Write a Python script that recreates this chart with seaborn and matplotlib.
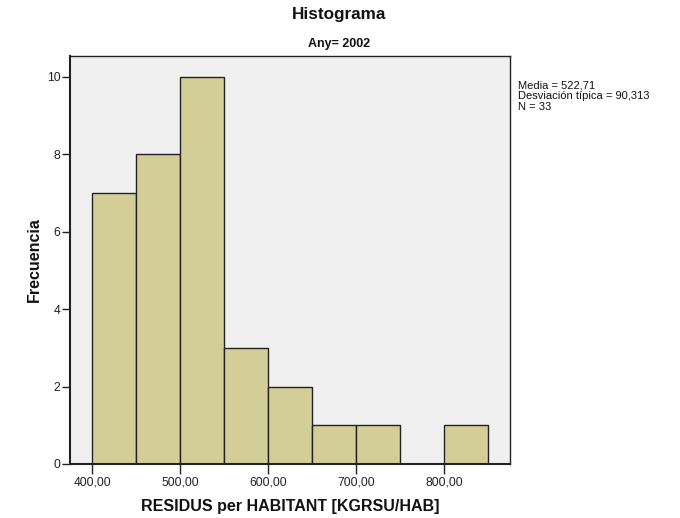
import matplotlib
matplotlib.use("Agg")
import matplotlib.pyplot as plt
import seaborn as sns
import numpy as np
from matplotlib.ticker import FuncFormatter

bin_edges = [400, 450, 500, 550, 600, 650, 700, 750, 800, 850]
counts = [7, 8, 10, 3, 2, 1, 1, 0, 1]
x_ticks = [400, 500, 600, 700, 800]
y_ticks = [0, 2, 4, 6, 8, 10]
stats_lines = ["Media = 522,71", "Desviación típica = 90,313", "N = 33"]

sns.set_theme(style="white")
plt.rcParams['font.family'] = ['Liberation Sans', 'DejaVu Sans']

fig = plt.figure(figsize=(6.8, 5.18), dpi=100)
ax = fig.add_axes([70/680, 1 - 464/518, 440/680, 408/518])
ax.set_facecolor("#F0F0F0")

centers = [(a + b) / 2 for a, b in zip(bin_edges[:-1], bin_edges[1:])]
sns.histplot(x=centers, weights=counts, bins=bin_edges, ax=ax,
             color="#D3CE97", alpha=1.0, edgecolor="#222222", linewidth=1.0)

ax.set_xlim(375, 875)
ax.set_ylim(0, 10.54)
ax.set_xticks(x_ticks)
ax.set_yticks(y_ticks)
ax.xaxis.set_major_formatter(FuncFormatter(lambda v, p: f"{v:.2f}".replace(".", ",")))
ax.tick_params(axis="both", direction="out", width=1, color="#222222",
               labelsize=8.7, bottom=True, left=True, labelcolor="#222222")
ax.tick_params(axis="x", length=7, pad=2)
ax.tick_params(axis="y", length=6, pad=1)
for s in ax.spines.values():
    s.set_color("#222222")
    s.set_linewidth(1.0)
ax.spines["left"].set_linewidth(1.5)
ax.spines["bottom"].set_linewidth(1.5)

ax.set_xlabel("RESIDUS per HABITANT [KGRSU/HAB]", fontsize=11.5, fontweight="bold", labelpad=7.5, color="#111111")
ax.set_ylabel("Frecuencia", fontsize=11.5, fontweight="bold", labelpad=3.5, color="#111111")

fig.text(339/680, 1 - 15/518, "Histograma", ha="center", va="center", fontsize=12.3, fontweight="bold", color="#111111")
fig.text(339/680, 1 - 44/518, "Any= 2002", ha="center", va="center", fontsize=9, fontweight="bold", color="#111111")
fig.text(518/680, 1 - 80/518, "\n".join(stats_lines), ha="left", va="top", fontsize=8,
         linespacing=1.12, color="#111111")

fig.savefig("out.png", dpi=100)
